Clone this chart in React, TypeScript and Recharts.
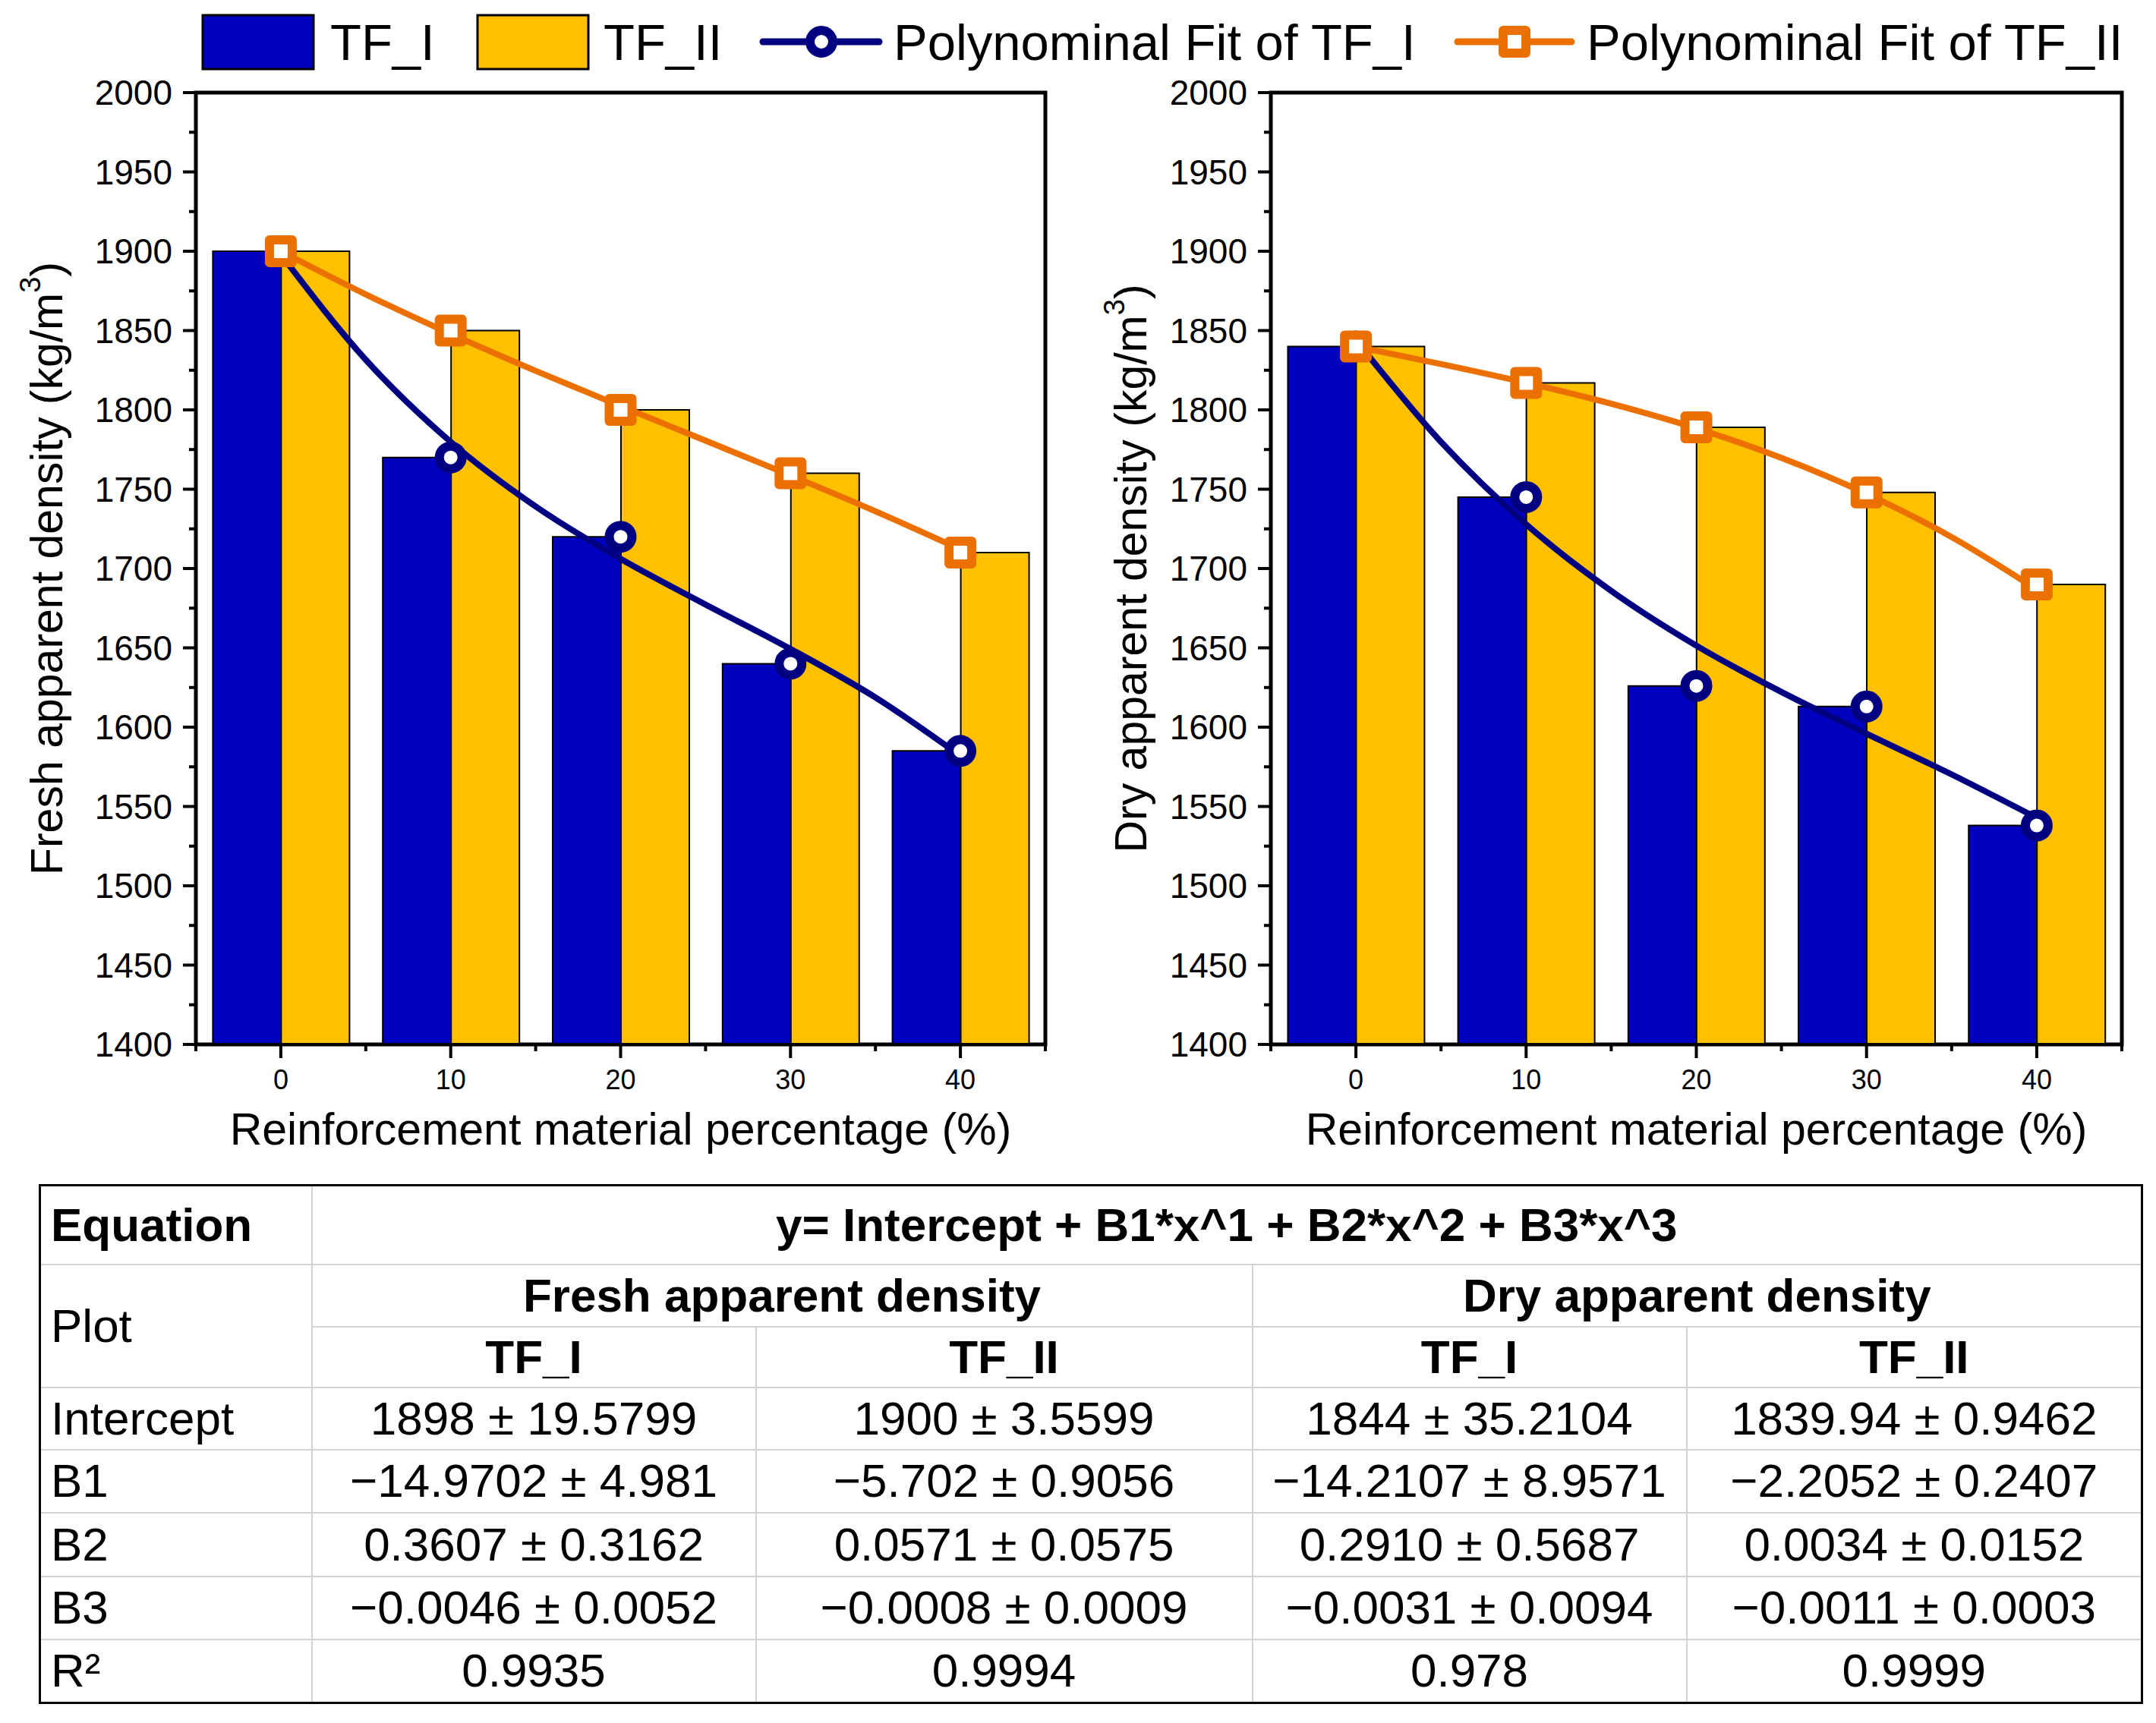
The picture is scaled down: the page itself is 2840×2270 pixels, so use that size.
import React from 'react';
import { ComposedChart, Bar, Line, XAxis, YAxis, ReferenceArea } from 'recharts';

// reinforcement percentage categories
const percentages = [0, 10, 20, 30, 40];

// measured densities (kg/m3)
const freshTF1 = [1900, 1770, 1720, 1640, 1585];
const freshTF2 = [1900, 1850, 1800, 1760, 1710];
const dryTF1 = [1840, 1745, 1626, 1613, 1538];
const dryTF2 = [1840, 1817, 1789, 1748, 1690];

// fitted curves
const fitX = [0, 5, 10, 15, 20, 25, 30, 35, 40];
const freshFitTF1 = [1898, 1831.6, 1779.8, 1739.1, 1706.1, 1677.3, 1649.3, 1618.7, 1581.9];
const freshFitTF2 = [1900, 1872.8, 1847.9, 1824.6, 1802.4, 1780.6, 1758.7, 1736.1, 1712.1];
const dryFitTF1 = [1844, 1779.8, 1727.9, 1685.9, 1651.4, 1622.2, 1595.9, 1570.2, 1542.8];
const dryFitTF2 = [1839.9, 1828.9, 1817.1, 1803.9, 1788.4, 1769.7, 1747.1, 1719.8, 1686.8];

const yMajorTicks = [1400, 1450, 1500, 1550, 1600, 1650, 1700, 1750, 1800, 1850, 1900, 1950, 2000];
const yMinorTicks = [1425, 1475, 1525, 1575, 1625, 1675, 1725, 1775, 1825, 1875, 1925, 1975];

// fit table
const tableGroups = ['Fresh apparent density', 'Dry apparent density'];
const tableCols = ['TF_I', 'TF_II', 'TF_I', 'TF_II'];
const tableRowLabels = ['Intercept', 'B1', 'B2', 'B3', 'R²'];
const interceptRow = ['1898 ± 19.5799', '1900 ± 3.5599', '1844 ± 35.2104', '1839.94 ± 0.9462'];
const b1Row = ['−14.9702 ± 4.981', '−5.702 ± 0.9056', '−14.2107 ± 8.9571', '−2.2052 ± 0.2407'];
const b2Row = ['0.3607 ± 0.3162', '0.0571 ± 0.0575', '0.2910 ± 0.5687', '0.0034 ± 0.0152'];
const b3Row = ['−0.0046 ± 0.0052', '−0.0008 ± 0.0009', '−0.0031 ± 0.0094', '−0.0011 ± 0.0003'];
const r2Row = ['0.9935', '0.9994', '0.978', '0.9999'];

const BLUE = '#0000C0';
const YELLOW = '#FFC000';
const NAVY = '#000080';
const ORANGE = '#EC7000';
const FONT = '"Liberation Sans", Arial, sans-serif';

const yTicks = [...yMajorTicks, ...yMinorTicks].sort((a, b) => a - b);

const YTick = (props: any) => {
  const { x, y, payload } = props;
  const major = yMajorTicks.includes(payload.value);
  return (
    <g>
      <line x1={x - (major ? 17 : 9)} x2={x} y1={y} y2={y} stroke="#000" strokeWidth={4} />
      {major && (
        <text x={x - 31} y={y} textAnchor="end" dominantBaseline="central" fontSize={46} fill="#000">
          {payload.value}
        </text>
      )}
    </g>
  );
};

const XTick = (props: any) => {
  const { x, y, payload, index, band } = props;
  return (
    <g>
      <line x1={x} x2={x} y1={y} y2={y + 18} stroke="#000" strokeWidth={4} />
      <line x1={x + band / 2} x2={x + band / 2} y1={y} y2={y + 9} stroke="#000" strokeWidth={4} />
      {index === 0 && <line x1={x - band / 2} x2={x - band / 2} y1={y} y2={y + 9} stroke="#000" strokeWidth={4} />}
      <text x={x} y={y + 46} textAnchor="middle" dominantBaseline="central" fontSize={36} fill="#000">
        {payload.value}
      </text>
    </g>
  );
};

const circleDot = (p: any) => (
  <circle key={'c' + p.index} cx={p.cx} cy={p.cy} r={15} fill="#fff" stroke={NAVY} strokeWidth={12} />
);

const squareDot = (p: any) => (
  <rect
    key={'s' + p.index}
    x={p.cx - 15}
    y={p.cy - 15}
    width={30}
    height={30}
    fill="#fff"
    stroke={ORANGE}
    strokeWidth={12}
    strokeLinejoin="round"
  />
);

interface ChartProps {
  left: number;
  yAxisWidth: number;
  rightMargin: number;
  titleOffset: number;
  yTitle: string;
  bars1: number[];
  bars2: number[];
  fit1: number[];
  fit2: number[];
}

function DensityChart({ left, yAxisWidth, rightMargin, titleOffset, yTitle, bars1, bars2, fit1, fit2 }: ChartProps) {
  const W = 1420;
  const H = 1540;
  const band = (W - yAxisWidth - rightMargin) / percentages.length;
  const data = percentages.map((p, i) => ({ x: p, tf1: bars1[i], tf2: bars2[i] }));
  const fitData1 = fitX.map((x, i) => ({ x, y: fit1[i] }));
  const fitData2 = fitX.map((x, i) => ({ x, y: fit2[i] }));

  return (
    <div style={{ position: 'absolute', left, top: 0 }}>
      <ComposedChart
        width={W}
        height={H}
        data={data}
        margin={{ top: 122, right: rightMargin, bottom: 0, left: 0 }}
        barCategoryGap="10%"
        barGap={0}
      >
        <XAxis
          xAxisId="cat"
          dataKey="x"
          type="category"
          height={164}
          tickSize={0}
          tickMargin={0}
          interval={0}
          tickLine={false}
          axisLine={{ stroke: '#000', strokeWidth: 4 }}
          tick={<XTick band={band} />}
          label={(p: any) => {
            const vb = p.viewBox;
            return (
              <text
                x={vb.x + vb.width / 2}
                y={vb.y + 112}
                textAnchor="middle"
                dominantBaseline="central"
                fontSize={59}
                fill="#000"
              >
                Reinforcement material percentage (%)
              </text>
            );
          }}
        />
        <XAxis xAxisId="num" dataKey="x" type="number" domain={[-5, 45]} allowDataOverflow hide height={0} />
        <YAxis
          domain={[1400, 2000]}
          ticks={yTicks}
          interval={0}
          width={yAxisWidth}
          tickSize={0}
          tickMargin={0}
          tickLine={false}
          allowDataOverflow
          axisLine={{ stroke: '#000', strokeWidth: 4 }}
          tick={<YTick />}
          label={(p: any) => {
            const vb = p.viewBox;
            const cx = vb.x + titleOffset;
            const cy = vb.y + vb.height / 2;
            return (
              <text
                x={cx}
                y={cy}
                transform={`rotate(-90 ${cx} ${cy})`}
                textAnchor="middle"
                dominantBaseline="central"
                fontSize={59}
                fill="#000"
              >
                {yTitle} (kg/m
                <tspan dy={-22} fontSize={38}>3</tspan>
                <tspan dy={22} fontSize={59}>)</tspan>
              </text>
            );
          }}
        />
        <Bar xAxisId="cat" dataKey="tf1" fill={BLUE} stroke="#000" strokeWidth={2} isAnimationActive={false} />
        <Bar xAxisId="cat" dataKey="tf2" fill={YELLOW} stroke="#000" strokeWidth={2} isAnimationActive={false} />
        <Line
          xAxisId="num"
          data={fitData1}
          dataKey="y"
          type="monotone"
          stroke={NAVY}
          strokeWidth={8}
          dot={false}
          activeDot={false}
          isAnimationActive={false}
        />
        <Line
          xAxisId="cat"
          dataKey="tf1"
          stroke="none"
          dot={circleDot}
          activeDot={false}
          isAnimationActive={false}
        />
        <Line
          xAxisId="num"
          data={fitData2}
          dataKey="y"
          type="monotone"
          stroke={ORANGE}
          strokeWidth={8}
          dot={false}
          activeDot={false}
          isAnimationActive={false}
        />
        <Line
          xAxisId="cat"
          dataKey="tf2"
          stroke="none"
          dot={squareDot}
          activeDot={false}
          isAnimationActive={false}
        />
        <ReferenceArea
          xAxisId="num"
          x1={-5}
          x2={45}
          y1={1400}
          y2={2000}
          fill="none"
          fillOpacity={0}
          stroke="#000"
          strokeWidth={5}
          ifOverflow="visible"
        />
      </ComposedChart>
    </div>
  );
}

function LegendBar() {
  return (
    <svg width={2840} height={110} style={{ position: 'absolute', left: 0, top: 0 }}>
      <rect x={267} y={20} width={146} height={71} fill={BLUE} stroke="#000" strokeWidth={3} />
      <text x={435} y={55} dominantBaseline="central" fontSize={67}>TF_I</text>
      <rect x={629} y={20} width={146} height={71} fill={YELLOW} stroke="#000" strokeWidth={3} />
      <text x={795} y={55} dominantBaseline="central" fontSize={67}>TF_II</text>
      <line x1={1005} x2={1158} y1={55} y2={55} stroke={NAVY} strokeWidth={9} strokeLinecap="round" />
      <circle cx={1082} cy={55} r={15} fill="#fff" stroke={NAVY} strokeWidth={12} />
      <text x={1177} y={55} dominantBaseline="central" fontSize={67}>Polynominal Fit of TF_I</text>
      <line x1={1920} x2={2070} y1={55} y2={55} stroke={ORANGE} strokeWidth={9} strokeLinecap="round" />
      <rect x={1980} y={40} width={30} height={30} fill="#fff" stroke={ORANGE} strokeWidth={12} strokeLinejoin="round" />
      <text x={2090} y={55} dominantBaseline="central" fontSize={67}>Polynominal Fit of TF_II</text>
    </svg>
  );
}

const cellBase: React.CSSProperties = {
  border: '2px solid #d3d3d3',
  padding: 0,
  textAlign: 'center',
  verticalAlign: 'middle',
  whiteSpace: 'nowrap',
};
const firstCell: React.CSSProperties = { ...cellBase, textAlign: 'left', paddingLeft: 13 };

function FitTable() {
  const bodyRows = [interceptRow, b1Row, b2Row, b3Row, r2Row];
  const bodyHeights = [82, 83, 84, 83, 84];
  return (
    <table
      style={{
        position: 'absolute',
        left: 51,
        top: 1560,
        width: 2769,
        borderCollapse: 'collapse',
        tableLayout: 'fixed',
        border: '3px solid #000',
        fontSize: 62,
        lineHeight: 1,
        fontFamily: FONT,
        color: '#000',
      }}
    >
      <colgroup>
        <col style={{ width: 358 }} />
        <col style={{ width: 585 }} />
        <col style={{ width: 654 }} />
        <col style={{ width: 572 }} />
        <col style={{ width: 600 }} />
      </colgroup>
      <tbody>
        <tr style={{ height: 104 }}>
          <td style={{ ...firstCell, fontWeight: 'bold' }}>Equation</td>
          <td colSpan={4} style={{ ...cellBase, fontWeight: 'bold' }}>
            y= Intercept + B1*x^1 + B2*x^2 + B3*x^3
          </td>
        </tr>
        <tr style={{ height: 82 }}>
          <td rowSpan={2} style={firstCell}>Plot</td>
          {tableGroups.map((g) => (
            <td key={g} colSpan={2} style={{ ...cellBase, fontWeight: 'bold' }}>{g}</td>
          ))}
        </tr>
        <tr style={{ height: 80 }}>
          {tableCols.map((c, i) => (
            <td key={i} style={{ ...cellBase, fontWeight: 'bold' }}>{c}</td>
          ))}
        </tr>
        {bodyRows.map((row, r) => (
          <tr key={r} style={{ height: bodyHeights[r] }}>
            <td style={firstCell}>{tableRowLabels[r]}</td>
            {row.map((v, i) => (
              <td key={i} style={cellBase}>{v}</td>
            ))}
          </tr>
        ))}
      </tbody>
    </table>
  );
}

export default function App() {
  return (
    <div
      style={{
        position: 'absolute',
        left: 0,
        top: 0,
        width: 2840,
        height: 2270,
        background: '#fff',
        overflow: 'hidden',
        fontFamily: FONT,
      }}
    >
      <LegendBar />
      <DensityChart
        left={0}
        yAxisWidth={258}
        rightMargin={43}
        titleOffset={62}
        yTitle="Fresh apparent density"
        bars1={freshTF1}
        bars2={freshTF2}
        fit1={freshFitTF1}
        fit2={freshFitTF2}
      />
      <DensityChart
        left={1420}
        yAxisWidth={254}
        rightMargin={45}
        titleOffset={70}
        yTitle="Dry apparent density"
        bars1={dryTF1}
        bars2={dryTF2}
        fit1={dryFitTF1}
        fit2={dryFitTF2}
      />
      <FitTable />
    </div>
  );
}
